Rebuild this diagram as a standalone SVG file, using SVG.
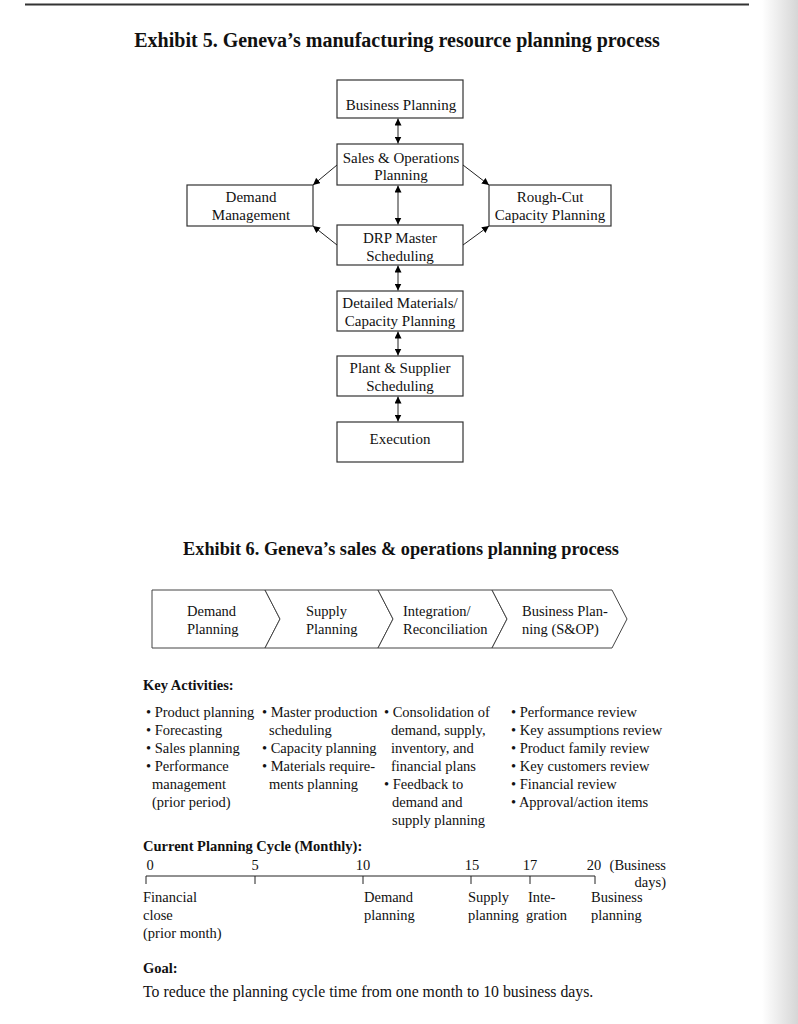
<svg xmlns="http://www.w3.org/2000/svg" width="798" height="1024" viewBox="0 0 798 1024">
<defs>
<linearGradient id="edge" x1="0" y1="0" x2="1" y2="0">
<stop offset="0" stop-color="#ffffff"/>
<stop offset="1" stop-color="#d6d6d6"/>
</linearGradient>
<marker id="ah" viewBox="0 0 10 10" refX="10" refY="5" markerWidth="7" markerHeight="7" markerUnits="userSpaceOnUse" orient="auto-start-reverse">
<path d="M0,0 L10,5 L0,10 Z" fill="#000"/>
</marker>
<style>
text{font-family:"Liberation Serif","Times New Roman",serif;fill:#111}
.t{font-size:20px;font-weight:bold}
.t6{font-size:18.3px;font-weight:bold}
.b{font-size:15px;text-anchor:middle}
.s{font-size:14.5px}
.g{font-size:15.8px}
.h{font-size:14.5px;font-weight:bold}
.box{fill:#fff;stroke:#333;stroke-width:1.2}
.ch{fill:#fff;stroke:#444;stroke-width:1}
.c{stroke:#222;stroke-width:1;fill:none}
.ca{stroke:#222;stroke-width:1;fill:none;marker-start:url(#ah);marker-end:url(#ah)}
.ce{stroke:#222;stroke-width:1;fill:none;marker-end:url(#ah)}
</style>
</defs>
<rect width="798" height="1024" fill="#fff"/>
<rect x="762" y="0" width="36" height="1024" fill="url(#edge)"/>
<line x1="25" y1="4.5" x2="749" y2="4.5" stroke="#333" stroke-width="2"/>

<text class="t" x="397" y="47" text-anchor="middle">Exhibit 5. Geneva’s manufacturing resource planning process</text>

<g id="business-planning"><rect class="box" x="337" y="80" width="126" height="38"/><text class="b" x="401" y="110">Business Planning</text></g>
<g id="sales-operations-planning"><rect class="box" x="337" y="144" width="126" height="41"/><text class="b" x="401" y="163">Sales &amp; Operations</text><text class="b" x="401" y="180">Planning</text></g>
<g id="demand-management"><rect class="box" x="187" y="185" width="126" height="41"/><text class="b" x="251" y="202">Demand</text><text class="b" x="251" y="220">Management</text></g>
<g id="rough-cut-capacity-planning"><rect class="box" x="489" y="185" width="122" height="41"/><text class="b" x="550" y="202">Rough-Cut</text><text class="b" x="550" y="220">Capacity Planning</text></g>
<g id="drp-master-scheduling"><rect class="box" x="337" y="225" width="126" height="40"/><text class="b" x="400" y="243">DRP Master</text><text class="b" x="400" y="261">Scheduling</text></g>
<g id="detailed-materials"><rect class="box" x="337" y="291" width="126" height="40"/><text class="b" x="400" y="308">Detailed Materials/</text><text class="b" x="400" y="326">Capacity Planning</text></g>
<g id="plant-supplier-scheduling"><rect class="box" x="337" y="356" width="126" height="40"/><text class="b" x="400" y="373">Plant &amp; Supplier</text><text class="b" x="400" y="391">Scheduling</text></g>
<g id="execution"><rect class="box" x="337" y="422" width="126" height="40"/><text class="b" x="400" y="444">Execution</text></g>

<g id="connectors">
<line class="ca" x1="398" y1="118.5" x2="398" y2="143.5"/>
<line class="ca" x1="398" y1="185.5" x2="398" y2="224.5"/>
<line class="ca" x1="398" y1="265.5" x2="398" y2="290.5"/>
<line class="ca" x1="398" y1="331.5" x2="398" y2="355.5"/>
<line class="ca" x1="398" y1="396.5" x2="398" y2="421.5"/>
<line class="ce" x1="337" y1="165" x2="313" y2="185"/>
<line class="ce" x1="337" y1="245" x2="313" y2="226"/>
<line class="ce" x1="463" y1="165" x2="489" y2="185"/>
<line class="ce" x1="463" y1="245" x2="489" y2="226"/>
</g>

<text class="t6" x="401" y="555" text-anchor="middle">Exhibit 6. Geneva’s sales &amp; operations planning process</text>

<g id="chevron-demand-planning"><polygon class="ch" points="152,590 265,590 280,619 265,648 152,648"/><text class="s" x="187" y="616">Demand</text><text class="s" x="187" y="634">Planning</text></g>
<g id="chevron-supply-planning"><polygon class="ch" points="265,590 378,590 393,619 378,648 265,648 280,619"/><text class="s" x="306" y="616">Supply</text><text class="s" x="306" y="634">Planning</text></g>
<g id="chevron-integration"><polygon class="ch" points="378,590 492,590 507,619 492,648 378,648 393,619"/><text class="s" x="403" y="616">Integration/</text><text class="s" x="403" y="634">Reconciliation</text></g>
<g id="chevron-business-planning"><polygon class="ch" points="492,590 612,590 627,619 612,648 492,648 507,619"/><text class="s" x="522" y="616">Business Plan-</text><text class="s" x="522" y="634">ning (S&amp;OP)</text></g>

<g id="key-activities">
<text class="h" x="143" y="690">Key Activities:</text>
<text class="s" x="146" y="717">• Product planning</text>
<text class="s" x="146" y="735">• Forecasting</text>
<text class="s" x="146" y="753">• Sales planning</text>
<text class="s" x="146" y="771">• Performance</text>
<text class="s" x="152" y="789">management</text>
<text class="s" x="152" y="807">(prior period)</text>

<text class="s" x="262" y="717">• Master production</text>
<text class="s" x="269" y="735">scheduling</text>
<text class="s" x="262" y="753">• Capacity planning</text>
<text class="s" x="262" y="771">• Materials require-</text>
<text class="s" x="269" y="789">ments planning</text>

<text class="s" x="384" y="717">• Consolidation of</text>
<text class="s" x="391" y="735">demand, supply,</text>
<text class="s" x="391" y="753">inventory, and</text>
<text class="s" x="391" y="771">financial plans</text>
<text class="s" x="384" y="789">• Feedback to</text>
<text class="s" x="392" y="807">demand and</text>
<text class="s" x="392" y="825">supply planning</text>

<text class="s" x="511" y="717">• Performance review</text>
<text class="s" x="511" y="735">• Key assumptions review</text>
<text class="s" x="511" y="753">• Product family review</text>
<text class="s" x="511" y="771">• Key customers review</text>
<text class="s" x="511" y="789">• Financial review</text>
<text class="s" x="511" y="807">• Approval/action items</text>
</g>

<g id="timeline">
<text class="h" x="143" y="851">Current Planning Cycle (Monthly):</text>
<text class="s" x="150" y="870" text-anchor="middle">0</text>
<text class="s" x="255" y="870" text-anchor="middle">5</text>
<text class="s" x="363" y="870" text-anchor="middle">10</text>
<text class="s" x="472" y="870" text-anchor="middle">15</text>
<text class="s" x="530" y="870" text-anchor="middle">17</text>
<text class="s" x="594" y="870" text-anchor="middle">20</text>
<text class="s" x="666" y="870" text-anchor="end">(Business</text>
<text class="s" x="666" y="887" text-anchor="end">days)</text>
<path class="c" d="M146,884 V876 H595 V884 M255,876 V884 M363,876 V884 M471,876 V884 M530,876 V884"/>
<text class="s" x="143" y="902">Financial</text>
<text class="s" x="143" y="920">close</text>
<text class="s" x="143" y="938">(prior month)</text>
<text class="s" x="364" y="902">Demand</text>
<text class="s" x="364" y="920">planning</text>
<text class="s" x="468" y="902">Supply</text>
<text class="s" x="468" y="920">planning</text>
<text class="s" x="528" y="902">Inte-</text>
<text class="s" x="526" y="920">gration</text>
<text class="s" x="591" y="902">Business</text>
<text class="s" x="591" y="920">planning</text>
</g>

<g id="goal">
<text class="h" x="143" y="973">Goal:</text>
<text class="g" x="143" y="997">To reduce the planning cycle time from one month to 10 business days.</text>
</g>
</svg>
